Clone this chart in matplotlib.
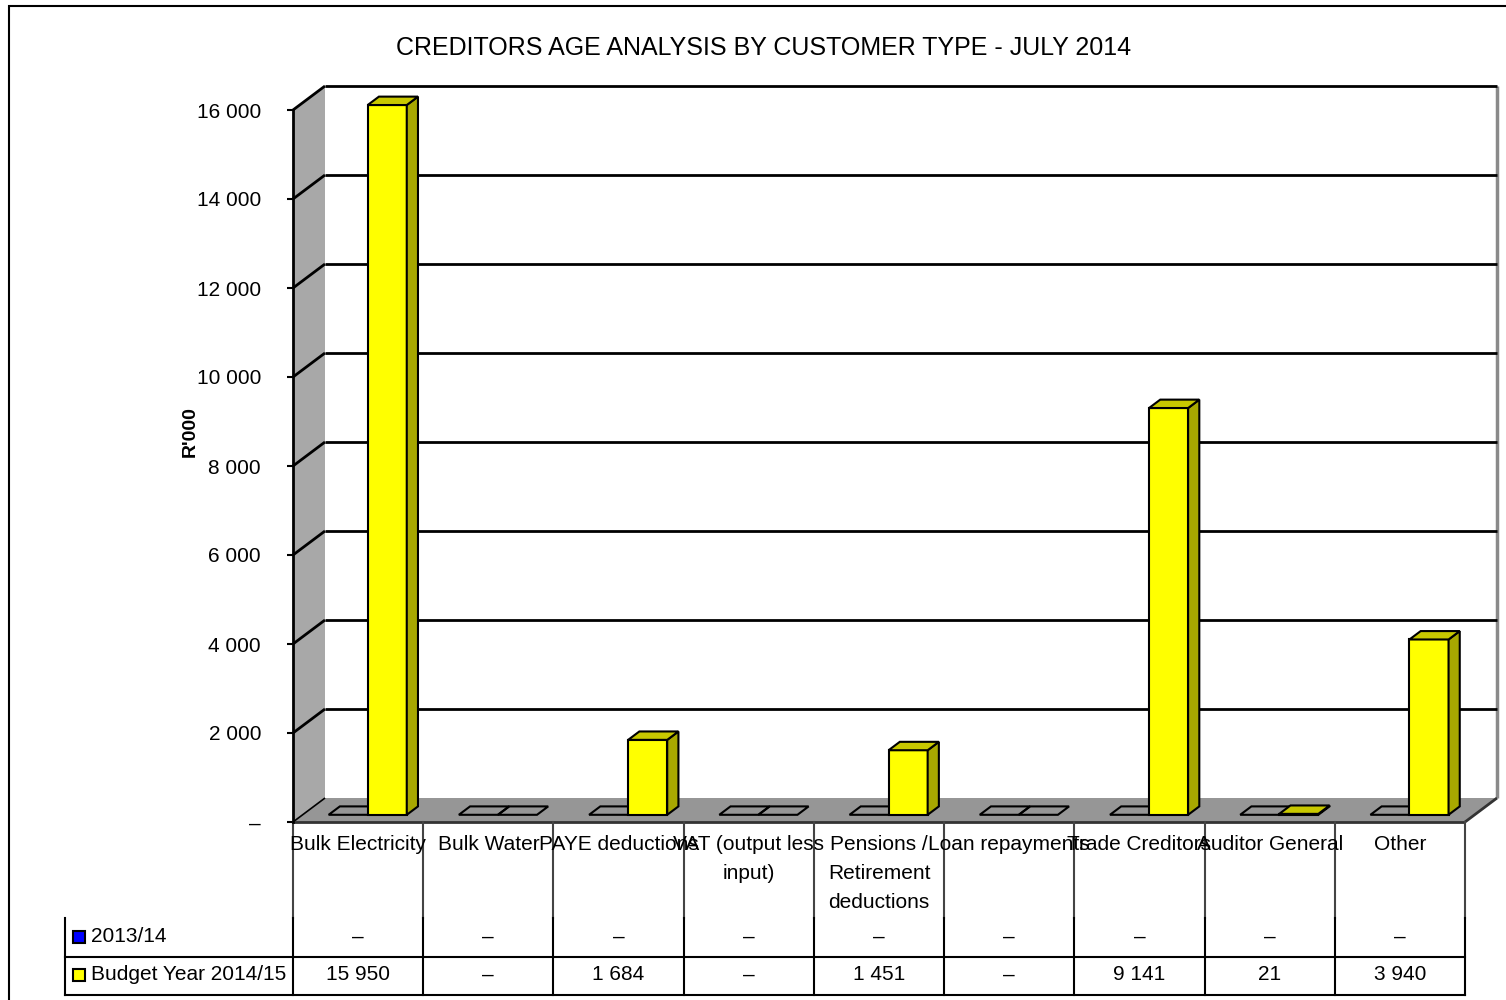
import matplotlib
matplotlib.use('Agg')
import matplotlib.pyplot as plt
from matplotlib.patches import Polygon, Rectangle
from matplotlib.lines import Line2D
from matplotlib.ticker import FuncFormatter
from matplotlib.transforms import blended_transform_factory

title = 'CREDITORS AGE ANALYSIS BY CUSTOMER TYPE - JULY 2014'
categories = ['Bulk Electricity', 'Bulk Water', 'PAYE deductions',
              'VAT (output less\ninput)', 'Pensions /\nRetirement\ndeductions',
              'Loan repayments', 'Trade Creditors', 'Auditor General', 'Other']
series_names = ['2013/14', 'Budget Year 2014/15']
prior_year = [0, 0, 0, 0, 0, 0, 0, 0, 0]
budget_year = [15950, 0, 1684, 0, 1451, 0, 9141, 21, 3940]
y_ticks = [0, 2000, 4000, 6000, 8000, 10000, 12000, 14000, 16000]

plt.rcParams['font.family'] = ['Liberation Sans', 'DejaVu Sans']

W, H = 1506, 1000
fig = plt.figure(figsize=(W / 100, H / 100), dpi=100)
ax = fig.add_axes([293 / W, 1 - 822 / H, 1172 / W, 712 / H])
ax.set_xlim(0, len(categories))
ax.set_ylim(0, y_ticks[-1])
ax.patch.set_visible(False)
for s in ['top', 'right', 'bottom']:
    ax.spines[s].set_visible(False)
ax.spines['left'].set_linewidth(2)
ax.spines['left'].set_zorder(5)


def fmt(v, pos=None):
    if v == 0:
        return '\u2013'
    return '{:,.0f}'.format(v).replace(',', ' ')


ax.set_xticks([])
ax.set_yticks(y_ticks)
ax.yaxis.set_major_formatter(FuncFormatter(fmt))
ax.tick_params(axis='y', length=4, width=1.5, labelsize=15, pad=19)

# depth of the 3d box, 32 px right and 24 px up, in data units
inv = ax.transData.inverted()
o = inv.transform((0, 0))
ddx, ddy = inv.transform((32, 24)) - o
ymax = y_ticks[-1]
n = len(categories)


def pt(x, y, f):
    return (x + f * ddx, y + f * ddy)


def face(pts, fc, ec='black', lw=1.5, z=2):
    ax.add_patch(Polygon(pts, closed=True, fc=fc, ec=ec, lw=lw, zorder=z,
                         clip_on=False, joinstyle='miter'))


def seg(a, b, c='black', lw=2, z=1.5):
    ax.plot([a[0], b[0]], [a[1], b[1]], color=c, lw=lw, zorder=z,
            clip_on=False, solid_capstyle='butt')


# walls and floor
face([pt(0, 0, 0), pt(0, 0, 1), pt(0, ymax, 1), pt(0, ymax, 0)], '#a8a8a8', ec='none', z=1)
face([pt(0, 0, 1), pt(n, 0, 1), pt(n, ymax, 1), pt(0, ymax, 1)], 'white', ec='none', z=1)
face([pt(0, 0, 0), pt(n, 0, 0), pt(n, 0, 1), pt(0, 0, 1)], '#969696', ec='none', z=1.6)
seg(pt(n, 0, 1), pt(n, ymax, 1), c='#8a8a8a', lw=2.5)
for v in y_ticks[1:]:
    seg(pt(0, v, 1), pt(n, v, 1))
    seg(pt(0, v, 0), pt(0, v, 1))
seg(pt(0, 0, 0), pt(0, 0, 1), lw=1.2, z=1.7)
seg(pt(0, 0, 0), pt(n, 0, 0), c='#333333', lw=2, z=1.7)
seg(pt(n, 0, 0), pt(n, 0, 1), c='#333333', lw=2, z=1.7)

# bars
colours = [('#0000ff', '#000099', '#0000c8'), ('#ffff00', '#a8a800', '#c8c800')]
f0, f1 = 0.3, 0.65
for i in range(n):
    for k, vals in enumerate([prior_year, budget_year]):
        h = vals[i]
        x0 = i + 0.2 + 0.3 * k
        x1 = x0 + 0.3
        front, side, top = colours[k]
        if h == 0:
            face([pt(x0, 0, f0), pt(x1, 0, f0), pt(x1, 0, f1), pt(x0, 0, f1)], 'none', z=3)
            continue
        face([pt(x0, 0, f0), pt(x1, 0, f0), pt(x1, h, f0), pt(x0, h, f0)], front, z=3)
        face([pt(x1, 0, f0), pt(x1, 0, f1), pt(x1, h, f1), pt(x1, h, f0)], side, z=3)
        face([pt(x0, h, f0), pt(x1, h, f0), pt(x1, h, f1), pt(x0, h, f1)], top, z=3)

# data table under the chart
tb = blended_transform_factory(ax.transData, fig.transFigure)
y_top, y_rows, y_mid, y_bot = 1 - 822 / H, 1 - 918 / H, 1 - 957 / H, 1 - 995 / H
for i in range(n + 1):
    ax.add_line(Line2D([i, i], [y_top, y_rows], transform=tb, color='#444444', lw=1.5, clip_on=False))
    ax.add_line(Line2D([i, i], [y_rows, y_bot], transform=tb, color='black', lw=1.5, clip_on=False))
x_right = ax.get_position().x1
for y in [y_mid, y_bot]:
    fig.add_artist(Line2D([65 / W, x_right], [y, y], color='black', lw=1.5))
fig.add_artist(Line2D([65 / W, 65 / W], [y_rows, y_bot], color='black', lw=1.5))

for i, lab in enumerate(categories):
    ax.text(i + 0.5, 1 - 835 / H, lab, transform=tb, ha='center', va='top',
            fontsize=15, linespacing=1.65)

row_y = [1 - 937 / H, 1 - 975 / H]
for k, vals in enumerate([prior_year, budget_year]):
    for i, v in enumerate(vals):
        ax.text(i + 0.5, row_y[k], fmt(v), transform=tb, ha='center', va='center', fontsize=15)
    fig.add_artist(Rectangle((73 / W, row_y[k] - 6 / H), 12 / W, 12 / H,
                             transform=fig.transFigure, fc=colours[k][0], ec='black', lw=1.5))
    fig.text(91 / W, row_y[k], series_names[k], ha='left', va='center', fontsize=15)

fig.text(764 / W, 1 - 48 / H, title, ha='center', va='center', fontsize=18)
fig.text(190 / W, 1 - 432 / H, "R'000", rotation=90, fontweight='bold',
         fontsize=14, ha='center', va='center')

# outer chart border
fig.add_artist(Rectangle((9 / W, -0.01), 1.0, 1.01 - 6 / H, transform=fig.transFigure,
                         fill=False, ec='black', lw=1.5))

fig.savefig('out.png', dpi=100)
